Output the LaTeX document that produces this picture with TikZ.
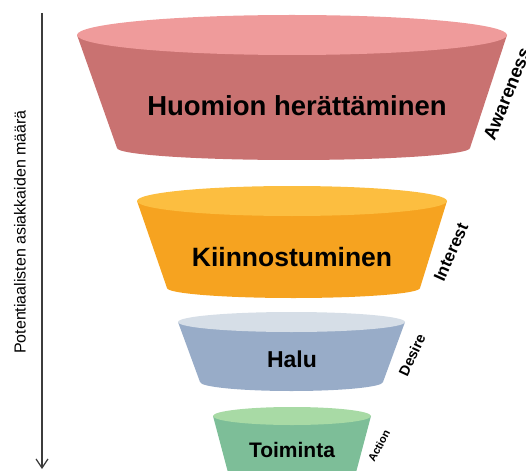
\documentclass[tikz,border=0pt]{standalone}
\usepackage{fontspec}
\setmainfont{Liberation Sans}
\usetikzlibrary{arrows.meta}
\definecolor{redbody}{RGB}{201,114,113}
\definecolor{redtop}{RGB}{239,155,155}
\definecolor{orgbody}{RGB}{246,163,32}
\definecolor{orgtop}{RGB}{252,190,64}
\definecolor{bluebody}{RGB}{152,172,200}
\definecolor{bluetop}{RGB}{214,222,231}
\definecolor{grnbody}{RGB}{125,190,152}
\definecolor{grntop}{RGB}{168,218,165}
\definecolor{axisgray}{RGB}{60,60,60}
\tikzset{
  stagelabel/.style={font=\bfseries, text=black, inner sep=0pt},
  sidelabel/.style={font=\bfseries, text=black, inner sep=0pt},
}
\begin{document}
\begin{tikzpicture}[x=1pt,y=-1pt]
\useasboundingbox (0,0) rectangle (526,470);
\clip (0,0) rectangle (526,470);
% funnel 1
\fill[redbody] (77,35) -- (117,148) arc[start angle=180,end angle=0,x radius=176.5,y radius=12] -- (507,35) -- cycle;
\fill[redtop] (292,35) ellipse[x radius=215,y radius=20];
% funnel 2
\fill[orgbody] (137,201) -- (167,288) arc[start angle=180,end angle=0,x radius=126.5,y radius=10] -- (447,201) -- cycle;
\fill[orgtop] (292,201) ellipse[x radius=155,y radius=15];
% funnel 3
\fill[bluebody] (178,322) -- (200,382) arc[start angle=180,end angle=0,x radius=91.5,y radius=9] -- (405,322) -- cycle;
\fill[bluetop] (291.5,322) ellipse[x radius=113.5,y radius=10];
% funnel 4
\fill[grnbody] (213,416) -- (230,480) arc[start angle=180,end angle=0,x radius=62,y radius=6] -- (371,416) -- cycle;
\fill[grntop] (292,416) ellipse[x radius=79,y radius=9];
% stage texts
\node[stagelabel, font=\fontsize{27.5}{33}\selectfont\bfseries] (t1) at (297,106) {Huomion herättäminen};
\node[stagelabel, font=\fontsize{26.5}{32}\selectfont\bfseries] (t2) at (292,257) {Kiinnostuminen};
\node[stagelabel, font=\fontsize{23}{28}\selectfont\bfseries] (t3) at (292,359) {Halu};
\node[stagelabel, font=\fontsize{21}{25}\selectfont\bfseries] (t4) at (292,450) {Toiminta};
% side labels
\node[sidelabel, font=\fontsize{18.5}{22}\selectfont\bfseries, rotate=68] (s1) at (507,94) {Awareness};
\node[sidelabel, font=\fontsize{17}{20}\selectfont\bfseries, rotate=66] (s2) at (451,252) {Interest};
\node[sidelabel, font=\fontsize{14.5}{17}\selectfont\bfseries, rotate=65] (s3) at (412,355) {Desire};
\node[sidelabel, font=\fontsize{11}{13}\selectfont\bfseries, rotate=62] (s4) at (379,446) {Action};
% axis
\coordinate (atop) at (42,13);
\coordinate (abot) at (42,469);
\draw[axisgray, line width=1.2pt, -{Straight Barb[length=9pt,width=12pt]}] (atop) -- (abot);
\node[font=\fontsize{16}{19}\selectfont, rotate=90, inner sep=0pt] (ax) at (20,232) {Potentiaalisten asiakkaiden määrä};
\end{tikzpicture}
\end{document}
